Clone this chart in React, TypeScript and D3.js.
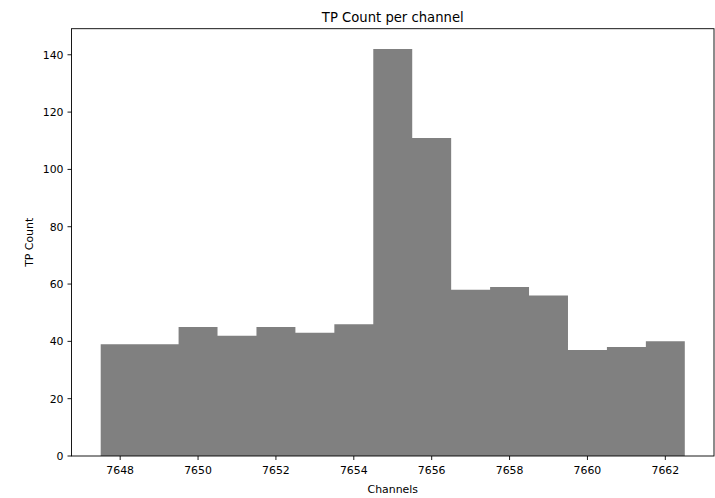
import React from "react";
import * as d3 from "d3";

const channels = [7648, 7649, 7650, 7651, 7652, 7653, 7654, 7655, 7656, 7657, 7658, 7659, 7660, 7661, 7662];
const counts = [39, 39, 45, 42, 45, 43, 46, 142, 111, 58, 59, 56, 37, 38, 40];
const xTicks = [7648, 7650, 7652, 7654, 7656, 7658, 7660, 7662];
const yTicks = [0, 20, 40, 60, 80, 100, 120, 140];

const W = 715;
const H = 498;
const left = 71.5;
const right = 714;
const top = 28.7;
const bottom = 456;
const font = "DejaVu Sans, sans-serif";
const fs = 10.9;

export default function App() {
  const lo = d3.min(channels)! - 0.5;
  const hi = d3.max(channels)! + 0.5;
  const pad = (hi - lo) * 0.05;
  const x = d3.scaleLinear().domain([lo - pad, hi + pad]).range([left, right]);
  const yMax = d3.max(counts)! * 1.05;
  const y = d3.scaleLinear().domain([0, yMax]).range([bottom, top]);

  const area = d3
    .area<number>()
    .curve(d3.curveStepAfter)
    .x((_, i) => x(i < channels.length ? channels[i] - 0.5 : channels[channels.length - 1] + 0.5))
    .y0(y(0))
    .y1((d) => y(d));
  const stepData = [...counts, counts[counts.length - 1]];

  return (
    <svg width={W} height={H} style={{ position: "absolute", left: 0, top: 0, background: "#fff" }}>
      <rect x={0} y={0} width={W} height={H} fill="#fff" />
      <path d={area(stepData) || ""} fill="#808080" />
      <rect x={left} y={top} width={right - left} height={bottom - top} fill="none" stroke="#000" strokeWidth={0.9} />
      {xTicks.map((t) => (
        <g key={t}>
          <line x1={x(t)} x2={x(t)} y1={bottom} y2={bottom + 4} stroke="#000" strokeWidth={0.9} />
          <text x={x(t)} y={bottom + 18} textAnchor="middle" fontFamily={font} fontSize={fs} fill="#000">
            {t}
          </text>
        </g>
      ))}
      {yTicks.map((t) => (
        <g key={t}>
          <line x1={left - 4} x2={left} y1={y(t)} y2={y(t)} stroke="#000" strokeWidth={0.9} />
          <text x={left - 8} y={y(t)} dy="0.36em" textAnchor="end" fontFamily={font} fontSize={fs} fill="#000">
            {t}
          </text>
        </g>
      ))}
      <text x={(left + right) / 2} y={bottom + 37} textAnchor="middle" fontFamily={font} fontSize={fs} fill="#000">
        Channels
      </text>
      <text
        transform={`translate(${33}, ${(top + bottom) / 2}) rotate(-90)`}
        textAnchor="middle"
        fontFamily={font}
        fontSize={fs}
        fill="#000"
      >
        TP Count
      </text>
      <text x={(left + right) / 2} y={top - 7} textAnchor="middle" fontFamily={font} fontSize={13.2} fill="#000">
        TP Count per channel
      </text>
    </svg>
  );
}
